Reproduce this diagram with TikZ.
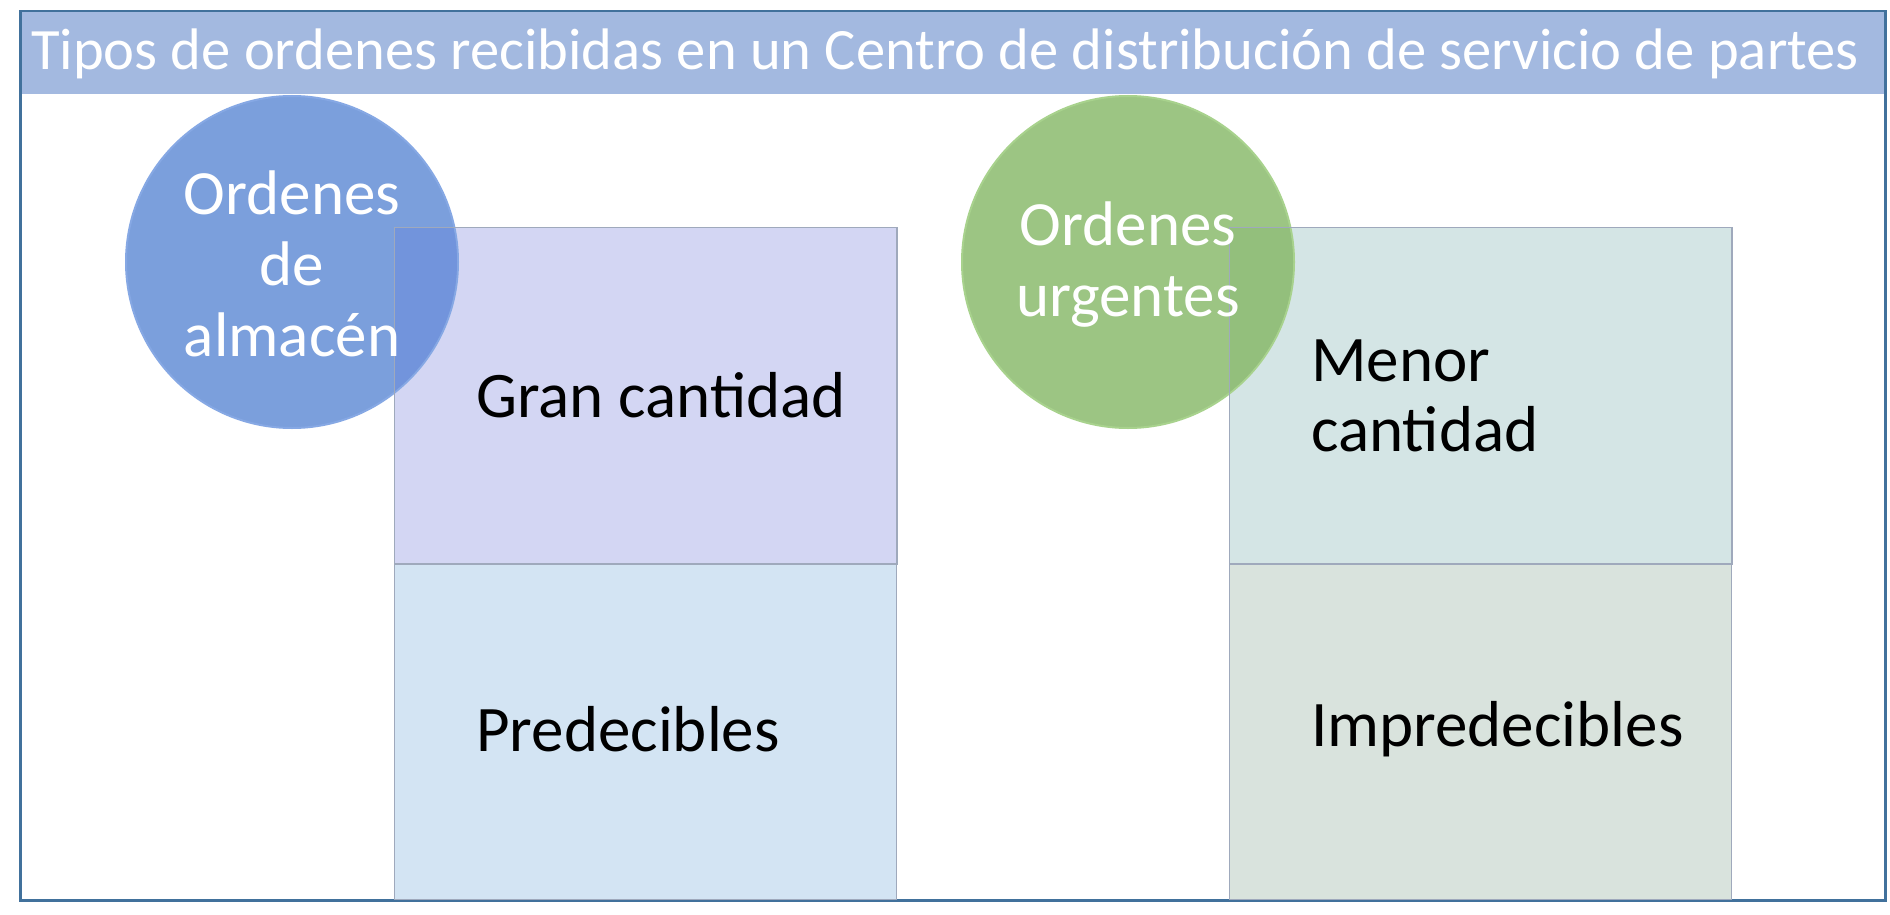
\documentclass[tikz,border=0pt]{standalone}
\usepackage{fontspec}
\setmainfont{Carlito}
\definecolor{frameC}{HTML}{41719C}
\definecolor{headC}{HTML}{A3B9E0}
\definecolor{circBlue}{HTML}{7B9FDC}
\definecolor{rimBlue}{HTML}{86A8E4}
\definecolor{ovBlue}{HTML}{7294DC}
\definecolor{circGreen}{HTML}{9CC583}
\definecolor{rimGreen}{HTML}{A8D28D}
\definecolor{ovGreen}{HTML}{93BF7C}
\definecolor{boxA}{HTML}{D3D6F3}
\definecolor{boxB}{HTML}{D3E4F3}
\definecolor{boxC}{HTML}{D4E5E5}
\definecolor{boxD}{HTML}{D9E3DD}
\definecolor{boxLine}{HTML}{9FA9BC}
\tikzset{
  panel/.style={draw=boxLine, line width=1pt, anchor=north west, minimum width=502pt, minimum height=336pt, inner sep=0pt},
  orb/.style={circle, minimum size=332pt, inner sep=0pt, line width=2pt},
  orbtext/.style={text=white, align=center, font=\fontsize{63}{71}\selectfont, inner sep=0pt},
  paneltext/.style={text=black, align=left, anchor=west, font=\fontsize{65}{70}\selectfont, inner sep=0pt},
  titletext/.style={text=white, font=\fontsize{58.6}{64}\selectfont, inner sep=0pt}
}
\begin{document}
\begin{tikzpicture}[x=1pt,y=-1pt]
\useasboundingbox (0,0) rectangle (1890,915);
\fill[white] (0,0) rectangle (1890,915);
% frame and header
\fill[headC] (19,10) rectangle (1884,94);
\node[draw=frameC, line width=2.5pt, anchor=north west, minimum width=1865pt, minimum height=889pt, inner sep=0pt] (frame) at (19,10) {};
\node[titletext] (title) at (945,54) {Tipos de ordenes recibidas en un Centro de distribución de servicio de partes};
% panels left
\node[panel, fill=boxA] (b1) at (394,227) {};
\node[panel, fill=boxB] (b2) at (394,563) {};
% panels right
\node[panel, fill=boxC] (b3) at (1229,227) {};
\node[panel, fill=boxD] (b4) at (1229,563) {};
% circles
\node[orb, fill=circBlue, draw=rimBlue] (c1) at (292,262) {};
\node[orb, fill=circGreen, draw=rimGreen] (c2) at (1128,262) {};
% overlaps
\begin{scope}
  \clip (c1.center) circle (165);
  \fill[ovBlue] (b1.north west) rectangle (b1.south east);
\end{scope}
\begin{scope}
  \clip (c2.center) circle (165);
  \fill[ovGreen] (b3.north west) rectangle (b3.south east);
\end{scope}
\draw[boxLine, line width=1pt] (b1.north west) rectangle (b1.south east);
\draw[boxLine, line width=1pt] (b3.north west) rectangle (b3.south east);
% texts
\node[orbtext] (t1) at (292,264) {Ordenes\\de\\almacén};
\node[orbtext] (t2) at (1128,265) {Ordenes\\urgentes};
\node[paneltext] (p1) at (476,395) {Gran cantidad};
\node[paneltext] (p2) at (476,729) {Predecibles};
\node[paneltext] (p3) at (1311,396) {Menor\\cantidad};
\node[paneltext] (p4) at (1311,729) {Impredecibles};
\end{tikzpicture}
\end{document}
